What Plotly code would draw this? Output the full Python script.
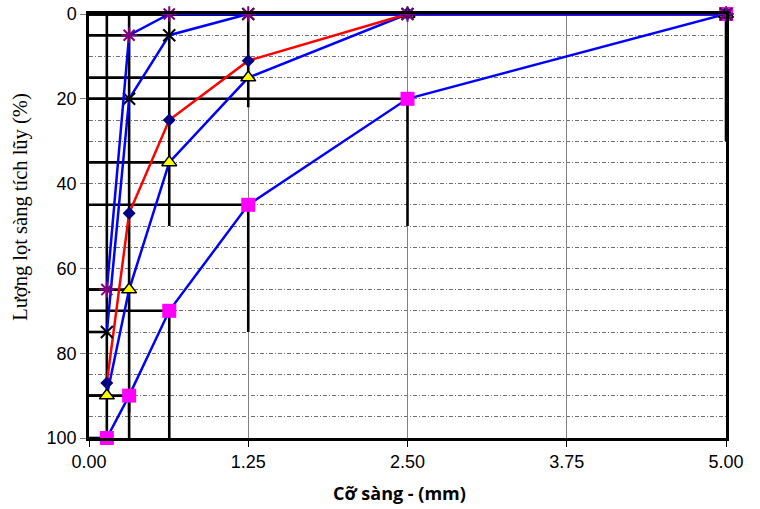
import plotly.graph_objects as go

# Sieve sizes (mm)
sieve = [0.14, 0.315, 0.63, 1.25, 2.5, 5.0]

# Cumulative passing / retained series (%)
upper_limit = [100, 90, 70, 45, 20, 0]     # magenta squares
lower_limit = [90, 65, 35, 15, 0, 0]       # yellow triangles
sample_red = [87, 47, 25, 11, 0, 0]        # navy diamonds, red line
sample_x = [75, 20, 5, 0, 0, 0]            # black X
sample_star = [65, 5, 0, 0, 0, 0]          # purple asterisks

# error-bar extents (%)
upper_plus = [30, 30, 30, 30, 30, 30]

x_ticks = [0, 1.25, 2.5, 3.75, 5.0]
y_ticks = [0, 20, 40, 60, 80, 100]

fig = go.Figure()

EB = dict(color="black", thickness=2.6, width=0)
clear = dict(color="rgba(0,0,0,0)", size=1)

# Error-bar carrier traces (drawn first, beneath the lines)
fig.add_trace(go.Scatter(x=sieve, y=upper_limit, mode="markers", marker=clear,
                         hoverinfo="skip", showlegend=False,
                         error_y=dict(type="data", symmetric=False, array=upper_plus,
                                      arrayminus=[0] * 6, **EB),
                         error_x=dict(type="data", symmetric=False, array=[0] * 6,
                                      arrayminus=sieve, **EB)))
fig.add_trace(go.Scatter(x=sieve, y=lower_limit, mode="markers", marker=clear,
                         hoverinfo="skip", showlegend=False,
                         error_x=dict(type="data", symmetric=False, array=[0] * 6,
                                      arrayminus=sieve, **EB)))
fig.add_trace(go.Scatter(x=sieve, y=sample_red, mode="markers", marker=clear,
                         hoverinfo="skip", showlegend=False,
                         error_y=dict(type="data", symmetric=True, array=sample_red, **EB)))
fig.add_trace(go.Scatter(x=sieve, y=sample_x, mode="markers", marker=clear,
                         hoverinfo="skip", showlegend=False,
                         error_x=dict(type="data", symmetric=False, array=[0] * 6,
                                      arrayminus=sieve, **EB)))
fig.add_trace(go.Scatter(x=sieve, y=sample_star, mode="markers", marker=clear,
                         hoverinfo="skip", showlegend=False,
                         error_x=dict(type="data", symmetric=False, array=[0] * 6,
                                      arrayminus=sieve, **EB)))

# Visible series
fig.add_trace(go.Scatter(x=sieve, y=upper_limit, mode="lines+markers", cliponaxis=False,
                         line=dict(color="#0000FF", width=2.5),
                         marker=dict(symbol="square", size=14, color="#FF00FF"),
                         showlegend=False))
fig.add_trace(go.Scatter(x=sieve, y=lower_limit, mode="lines+markers", cliponaxis=False,
                         line=dict(color="#0000FF", width=2.5),
                         marker=dict(symbol="triangle-up", size=13, color="#FFFF00",
                                     line=dict(color="black", width=1.5)),
                         showlegend=False))
fig.add_trace(go.Scatter(x=sieve, y=sample_red, mode="lines+markers", cliponaxis=False,
                         line=dict(color="#FF0000", width=2.5),
                         marker=dict(symbol="diamond", size=10, color="#000080"),
                         showlegend=False))
fig.add_trace(go.Scatter(x=sieve, y=sample_x, mode="lines+markers", cliponaxis=False,
                         line=dict(color="#0000FF", width=2.5),
                         marker=dict(symbol="x-thin-open", size=12, color="black",
                                     line=dict(color="black", width=2)),
                         showlegend=False))
fig.add_trace(go.Scatter(x=sieve, y=sample_star, mode="lines+markers", cliponaxis=False,
                         line=dict(color="#0000FF", width=2.5),
                         marker=dict(symbol="asterisk-open", size=13, color="#800080",
                                     line=dict(color="#800080", width=2)),
                         showlegend=False))

GRID_DASH = "4px,2px,1px,2px"

fig.update_layout(
    width=760, height=509,
    margin=dict(l=89, r=34, t=14, b=71),
    paper_bgcolor="white", plot_bgcolor="white",
    font=dict(family="Liberation Sans, Arial", size=18, color="black"),
    xaxis=dict(
        range=[0, 5], tickvals=x_ticks, tickformat=".2f", automargin=False,
        showgrid=True, gridcolor="#808080", gridwidth=1,
        showline=True, linecolor="black", linewidth=2.5, mirror=True,
        ticks="outside", ticklen=6, tickcolor="black", tickwidth=1,
        zeroline=False,
    ),
    yaxis=dict(
        range=[100, 0], tickvals=y_ticks, automargin=False,
        showgrid=True, gridcolor="#707070", gridwidth=1, griddash=GRID_DASH,
        minor=dict(dtick=5, showgrid=True, gridcolor="#707070", gridwidth=1,
                   griddash=GRID_DASH),
        showline=True, linecolor="black", linewidth=2.5, mirror=True,
        ticks="outside", ticklen=6, tickcolor="#808080", tickwidth=1,
        zeroline=False,
    ),
    annotations=[
        dict(text="Lượng lọt sàng tích lũy (%)", textangle=-90, showarrow=False,
             xref="paper", yref="paper", x=-0.107, y=0.545,
             xanchor="center", yanchor="middle",
             font=dict(family="Liberation Serif, Times New Roman", size=20.5)),
        dict(text="<b>Cỡ sàng - (mm)</b>", showarrow=False,
             xref="paper", yref="paper", x=0.487, y=-0.13,
             xanchor="center", yanchor="middle",
             font=dict(family="Open Sans, Liberation Sans", size=18)),
    ],
)

fig.write_html("out.html",
               config={"displayModeBar": False},
               post_script="document.body.style.margin='0';document.body.style.overflow='hidden';")
